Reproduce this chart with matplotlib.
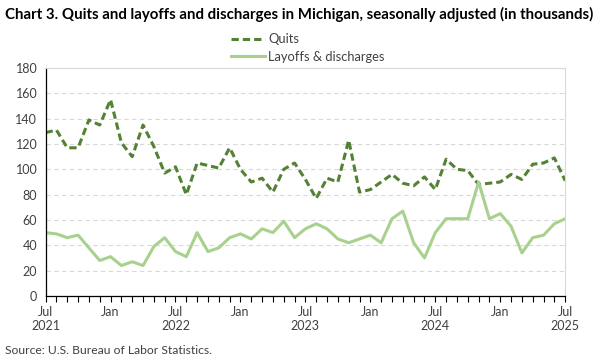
"""Chart 3: quits and layoffs and discharges in Michigan."""
import matplotlib

matplotlib.use("Agg")
import matplotlib.pyplot as plt
import pandas as pd

# Monthly values, Jul 2021 - Jul 2025 (in thousands)
MONTHS = pd.date_range("2021-07-01", "2025-07-01", freq="MS")

QUITS = [
    129, 131, 117, 117, 139, 135, 155, 121, 110, 135, 118, 97,
    102, 80, 105, 103, 101, 117, 100, 90, 93, 82, 100, 105,
    92, 77, 93, 90, 123, 82, 84, 90, 96, 89, 87, 94,
    84, 108, 100, 99, 88, 89, 90, 96, 92, 104, 105, 109,
    91,
]
LAYOFFS = [
    50, 49, 46, 48, 38, 28, 31, 24, 27, 24, 39, 46,
    35, 31, 50, 35, 38, 46, 49, 45, 53, 50, 59, 46,
    53, 57, 53, 45, 42, 45, 48, 42, 61, 67, 42, 30,
    50, 61, 61, 61, 90, 61, 65, 55, 34, 46, 48, 57,
    61,
]

QUITS_COLOR = "#548235"
LAYOFFS_COLOR = "#A9D18E"
FONT = ["Lato", "DejaVu Sans"]

plt.rcParams["font.family"] = FONT

fig = plt.figure(figsize=(6, 3.6), dpi=100)
ax = fig.add_axes([0.076, 0.178, 0.866, 0.633])

x = list(range(len(MONTHS)))
ax.plot(x, QUITS, color=QUITS_COLOR, lw=2.2, dashes=(2.4, 1.3), label="Quits")
ax.plot(x, LAYOFFS, color=LAYOFFS_COLOR, lw=2.2, label="Layoffs & discharges")

ax.set_xlim(0, len(MONTHS) - 1)
ax.set_ylim(0, 180)
ax.set_yticks(range(0, 181, 20))
ax.yaxis.grid(True, color="#d9d9d9", ls=(0, (4, 3)), lw=0.8)
ax.set_axisbelow(True)

labels = []
major = []
for i, m in enumerate(MONTHS):
    if m.month == 7:
        labels.append(f"Jul\n{m.year}")
        major.append(i)
    elif m.month == 1:
        labels.append("Jan")
        major.append(i)
ax.set_xticks(major)
ax.set_xticklabels(labels, va="top")
ax.set_xticks(x, minor=True)
ax.tick_params(axis="x", which="both", length=4, width=0.8, color="black",
               direction="out", labelsize=9, colors="#404040")
ax.tick_params(axis="x", which="both", color="black")
ax.tick_params(axis="y", length=0, labelsize=9, colors="#404040", pad=6)

for side in ("top", "right"):
    ax.spines[side].set_color("#d9d9d9")
    ax.spines[side].set_linewidth(0.8)
for side in ("left", "bottom"):
    ax.spines[side].set_color("black")
    ax.spines[side].set_linewidth(0.9)

ax.legend(loc="lower center", bbox_to_anchor=(0.505, 1.0), frameon=False,
          fontsize=9.3, handlelength=2.6, handletextpad=0.3, labelspacing=0.45,
          borderaxespad=0.0, labelcolor="#404040")

fig.text(0.008, 0.96, "Chart 3. Quits and layoffs and discharges in Michigan, "
         "seasonally adjusted (in thousands)", fontsize=10.8, fontweight="bold",
         va="center", ha="left")
fig.text(0.008, 0.027, "Source: U.S. Bureau of Labor Statistics.",
         fontsize=8.7, va="center", ha="left", color="#404040")

fig.savefig("out.png", dpi=100)
